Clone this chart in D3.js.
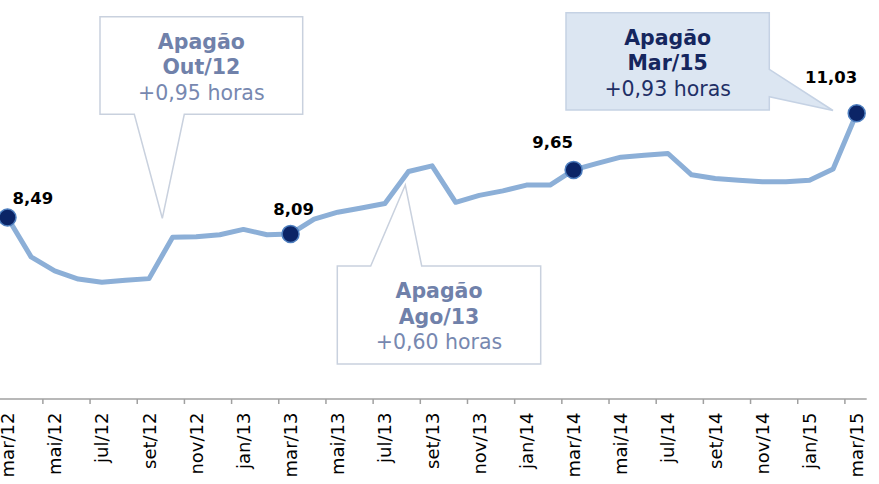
<!DOCTYPE html>
<html>
<head>
<meta charset="utf-8">
<script src="https://cdn.jsdelivr.net/npm/d3@7"></script>
<style>
  html, body { margin: 0; padding: 0; background: #fff; }
  svg { display: block; font-family: "DejaVu Sans", Verdana, sans-serif; }
</style>
</head>
<body>
<svg id="chart" width="879" height="484"></svg>
<script>
// ---- data ----
const months = [
  "mar/12","abr/12","mai/12","jun/12","jul/12","ago/12","set/12","out/12","nov/12","dez/12",
  "jan/13","fev/13","mar/13","abr/13","mai/13","jun/13","jul/13","ago/13","set/13","out/13",
  "nov/13","dez/13","jan/14","fev/14","mar/14","abr/14","mai/14","jun/14","jul/14","ago/14",
  "set/14","out/14","nov/14","dez/14","jan/15","fev/15","mar/15"
];
const hours = [
  8.49, 7.53, 7.19, 6.99, 6.91, 6.96, 7.00, 8.01, 8.02, 8.07,
  8.20, 8.07, 8.09, 8.45, 8.62, 8.72, 8.83, 9.61, 9.75, 8.86,
  9.03, 9.14, 9.28, 9.28, 9.65, 9.81, 9.96, 10.01, 10.05, 9.53,
  9.44, 9.40, 9.36, 9.36, 9.40, 9.67, 11.03
];
const tickLabels = months.filter((d, i) => i % 2 === 0);
const highlighted = ["mar/12", "mar/13", "mar/14", "mar/15"];
const calloutOut12 = ["Apagão", "Out/12", "+0,95 horas"];
const calloutAgo13 = ["Apagão", "Ago/13", "+0,60 horas"];
const calloutMar15 = ["Apagão", "Mar/15", "+0,93 horas"];

// ---- scales ----
const svg = d3.select("#chart");
const x = d3.scalePoint().domain(months).range([7.5, 856.7]);
const step = x.step();
const y = d3.scaleLinear().domain([4, 12]).range([401.7, 73.5]);
const fmt = v => v.toFixed(2).replace(".", ",");

// ---- callouts ----
function callout(lines, box, pointer, opts) {
  const g = svg.append("g");
  g.append("path")
    .attr("d", pointer.path(box))
    .attr("fill", opts.fill)
    .attr("stroke", opts.stroke)
    .attr("stroke-width", 1.5)
    .attr("stroke-linejoin", "miter");
  const cx = (box.x0 + box.x1) / 2;
  lines.forEach((t, i) => {
    g.append("text")
      .attr("x", cx)
      .attr("y", box.y0 + 32 + i * 25.5)
      .attr("text-anchor", "middle")
      .attr("font-size", 20.5)
      .attr("font-weight", i < 2 ? "bold" : "normal")
      .attr("fill", i < 2 ? opts.bold : opts.normal)
      .text(t);
  });
}

// Out/12 : pointer from bottom edge down to the curve
callout(calloutOut12, {x0: 100, x1: 302.7, y0: 16.7, y1: 114.3}, {
  path: b => `M${b.x0},${b.y0}H${b.x1}V${b.y1}H184.3L162.3,218.3L134.3,${b.y1}H${b.x0}Z`
}, {fill: "#ffffff", stroke: "#C9D1DE", bold: "#7081AA", normal: "#7788B0"});

// Ago/13 : pointer from top edge up to the curve
callout(calloutAgo13, {x0: 337.3, x1: 540.7, y0: 266, y1: 364}, {
  path: b => `M${b.x0},${b.y0}H370.7L405.3,185L421.7,${b.y0}H${b.x1}V${b.y1}H${b.x0}Z`
}, {fill: "#ffffff", stroke: "#C9D1DE", bold: "#7081AA", normal: "#7788B0"});

// Mar/15 : pointer from right edge to the last point
callout(calloutMar15, {x0: 566, x1: 769.3, y0: 12.7, y1: 110}, {
  path: b => `M${b.x0},${b.y0}H${b.x1}V69.3L833,110.5L${b.x1},96.7V${b.y1}H${b.x0}Z`
}, {fill: "#DCE6F2", stroke: "#C5D2E4", bold: "#15265E", normal: "#1F2F66"});

// ---- axis ----
const axisY = 399;
svg.append("line")
  .attr("x1", 0).attr("x2", 866.7)
  .attr("y1", axisY).attr("y2", axisY)
  .attr("stroke", "#A0A0A0").attr("stroke-width", 1.5);

svg.append("g").selectAll("line.tick")
  .data(tickLabels)
  .join("line")
  .attr("x1", d => x(d) - step / 2).attr("x2", d => x(d) - step / 2)
  .attr("y1", axisY).attr("y2", axisY + 5)
  .attr("stroke", "#A0A0A0").attr("stroke-width", 1.5);

svg.append("g").selectAll("text")
  .data(tickLabels)
  .join("text")
  .attr("transform", d => `translate(${x(d)},${412.5}) rotate(-90)`)
  .attr("text-anchor", "end")
  .attr("dy", "0.36em")
  .attr("font-size", 18)
  .attr("fill", "#000")
  .text(d => d);

// ---- line ----
const series = months.map((m, i) => ({m, v: hours[i]}));
svg.append("path")
  .datum(series)
  .attr("fill", "none")
  .attr("stroke", "#8CAFD7")
  .attr("stroke-width", 5)
  .attr("stroke-linejoin", "round")
  .attr("d", d3.line().x(d => x(d.m)).y(d => y(d.v)));

// ---- markers ----
const hl = series.filter(d => highlighted.includes(d.m));
svg.append("g").selectAll("circle")
  .data(hl)
  .join("circle")
  .attr("cx", d => x(d.m))
  .attr("cy", d => y(d.v))
  .attr("r", 8.5)
  .attr("fill", "#0B2466")
  .attr("stroke", "#4F7FBF")
  .attr("stroke-width", 1.5);

// ---- data labels ----
const labelOffsets = {
  "mar/12": {dx: 5, dy: -13.5, anchor: "start"},
  "mar/13": {dx: 3, dy: -18.5, anchor: "middle"},
  "mar/14": {dx: -21, dy: -22, anchor: "middle"},
  "mar/15": {dx: -25.5, dy: -30.5, anchor: "middle"}
};
svg.append("g").selectAll("text")
  .data(hl)
  .join("text")
  .attr("x", d => x(d.m) + labelOffsets[d.m].dx)
  .attr("y", d => y(d.v) + labelOffsets[d.m].dy)
  .attr("text-anchor", d => labelOffsets[d.m].anchor)
  .attr("font-size", 16.5)
  .attr("font-weight", "bold")
  .attr("fill", "#000")
  .text(d => fmt(d.v));
</script>
</body>
</html>
